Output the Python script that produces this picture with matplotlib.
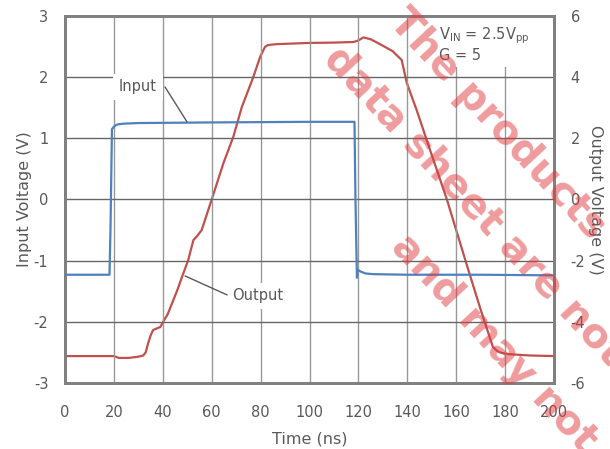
import matplotlib.pyplot as plt

plt.rcParams['axes.unicode_minus'] = False

# input step (left axis, V)
t_in = [0, 10, 18.2, 18.6, 19.2, 20, 21, 22, 24, 30, 60, 100, 118.4, 118.8, 119.4,
        119.8, 121, 123, 126, 140, 170, 200]
v_in = [-1.23, -1.23, -1.23, -0.5, 1.15, 1.19, 1.22, 1.23, 1.24, 1.25, 1.26, 1.27, 1.27,
        0.0, -1.28, -1.15, -1.18, -1.21, -1.22, -1.23, -1.23, -1.24]

# output (right axis, V)
t_out = [0, 10, 20, 22, 26, 30, 32, 33, 34, 35, 36, 38, 39, 40, 42, 44, 46, 48, 50.4,
         52.5, 54, 55.9, 60, 64.8, 68.8, 72.3, 77, 79.8, 81.8, 83, 86.6, 100, 110, 118,
         120, 122, 125, 128.8, 134, 137.7, 139.8, 143.8, 149.3, 156.2, 160, 165.6, 170,
         175, 177, 178.7, 182, 190, 200]
v_out = [-5.12, -5.12, -5.12, -5.18, -5.18, -5.14, -5.1, -5.0, -4.7, -4.45, -4.27, -4.2,
         -4.17, -4.02, -3.75, -3.35, -2.95, -2.5, -1.98,
         -1.33, -1.2, -1.0, 0.0, 1.19, 2.04, 3.02, 4.0, 4.66, 4.99, 5.05, 5.08, 5.12, 5.13, 5.15,
         5.2, 5.3, 5.24, 5.08, 4.85, 4.56, 3.81, 2.93, 1.62, 0.0, -1.0, -2.47, -3.6,
         -4.82, -4.97, -5.02, -5.06, -5.1, -5.12]

xticks = list(range(0, 201, 20))
yticks_in = list(range(-3, 4))
yticks_out = list(range(-6, 7, 2))

blue = '#4f81bd'
red = '#c0504d'
gray = '#595959'

fig = plt.figure(figsize=(6.1, 4.49), dpi=100)
ax = fig.add_axes([65 / 610, 1 - 383 / 449, 489 / 610, 367 / 449])
ax2 = ax.twinx()

ax.plot(t_in, v_in, color=blue, lw=1.6, zorder=3)
ax2.plot(t_out, v_out, color=red, lw=1.6)

ax.set_xlim(0, 200)
ax.set_ylim(-3, 3)
ax2.set_ylim(-6, 6)
ax.set_xticks(xticks)
ax.set_yticks(yticks_in)
ax2.set_yticks(yticks_out)

for g in xticks[1:-1]:
    ax.axvline(g, color='#999999', lw=1.0, zorder=0)
for g in yticks_in[1:-1]:
    ax.axhline(g, color='#666666', lw=1.0, zorder=0)

for a in (ax, ax2):
    a.tick_params(length=0, labelsize=10.5, labelcolor=gray)
    for s in a.spines.values():
        s.set_color('#808080')
        s.set_linewidth(2)
ax.tick_params(axis='x', pad=16)
ax.tick_params(axis='y', pad=12)
ax2.tick_params(axis='y', pad=12)

ax.set_xlabel('Time (ns)', fontsize=11.5, color=gray, labelpad=8)
ax.set_ylabel('Input Voltage (V)', fontsize=11.5, color=gray, labelpad=1)
ax2.set_ylabel('Output Voltage (V)', fontsize=11.5, color=gray, rotation=-90,
               labelpad=13)

ax.set_zorder(ax2.get_zorder() + 1)
ax.patch.set_visible(False)
ax2.patch.set_facecolor('white')

# callouts
box = dict(boxstyle='square,pad=0.4', fc='white', ec='none')
ax.text(29.9, 1.84, 'Input', color=gray, fontsize=10.5, ha='center', va='center', bbox=box)
ax.annotate('', xy=(49.9, 1.27), xytext=(40.9, 1.84),
            arrowprops=dict(arrowstyle='-', color=gray, lw=1, shrinkA=0, shrinkB=0))
ax.text(78.9, -1.575, 'Output', color=gray, fontsize=10.5, ha='center', va='center', bbox=box)
ax.annotate('', xy=(49.1, -1.25), xytext=(66.3, -1.56),
            arrowprops=dict(arrowstyle='-', color=gray, lw=1, shrinkA=0, shrinkB=0))
ax.text(153, 2.84, 'V$_{\\mathrm{IN}}$ = 2.5V$_{\\mathrm{pp}}$\nG = 5', color=gray,
        fontsize=10.5, ha='left', va='top', linespacing=1.1,
        bbox=dict(boxstyle='square,pad=0.3', fc='white', ec='none'))

# watermark
wm = [('The products', 396, 15), ('data sheet are not', 330, 52), ('and may not', 398, 240)]
for s, px, py in wm:
    fig.text(px / 610, 1 - py / 449, s, fontsize=29, fontweight='bold', color='#e0393e',
             alpha=0.5, rotation=-47, rotation_mode='anchor', ha='left', va='center',
             zorder=10)

fig.savefig('out.png', dpi=100)
